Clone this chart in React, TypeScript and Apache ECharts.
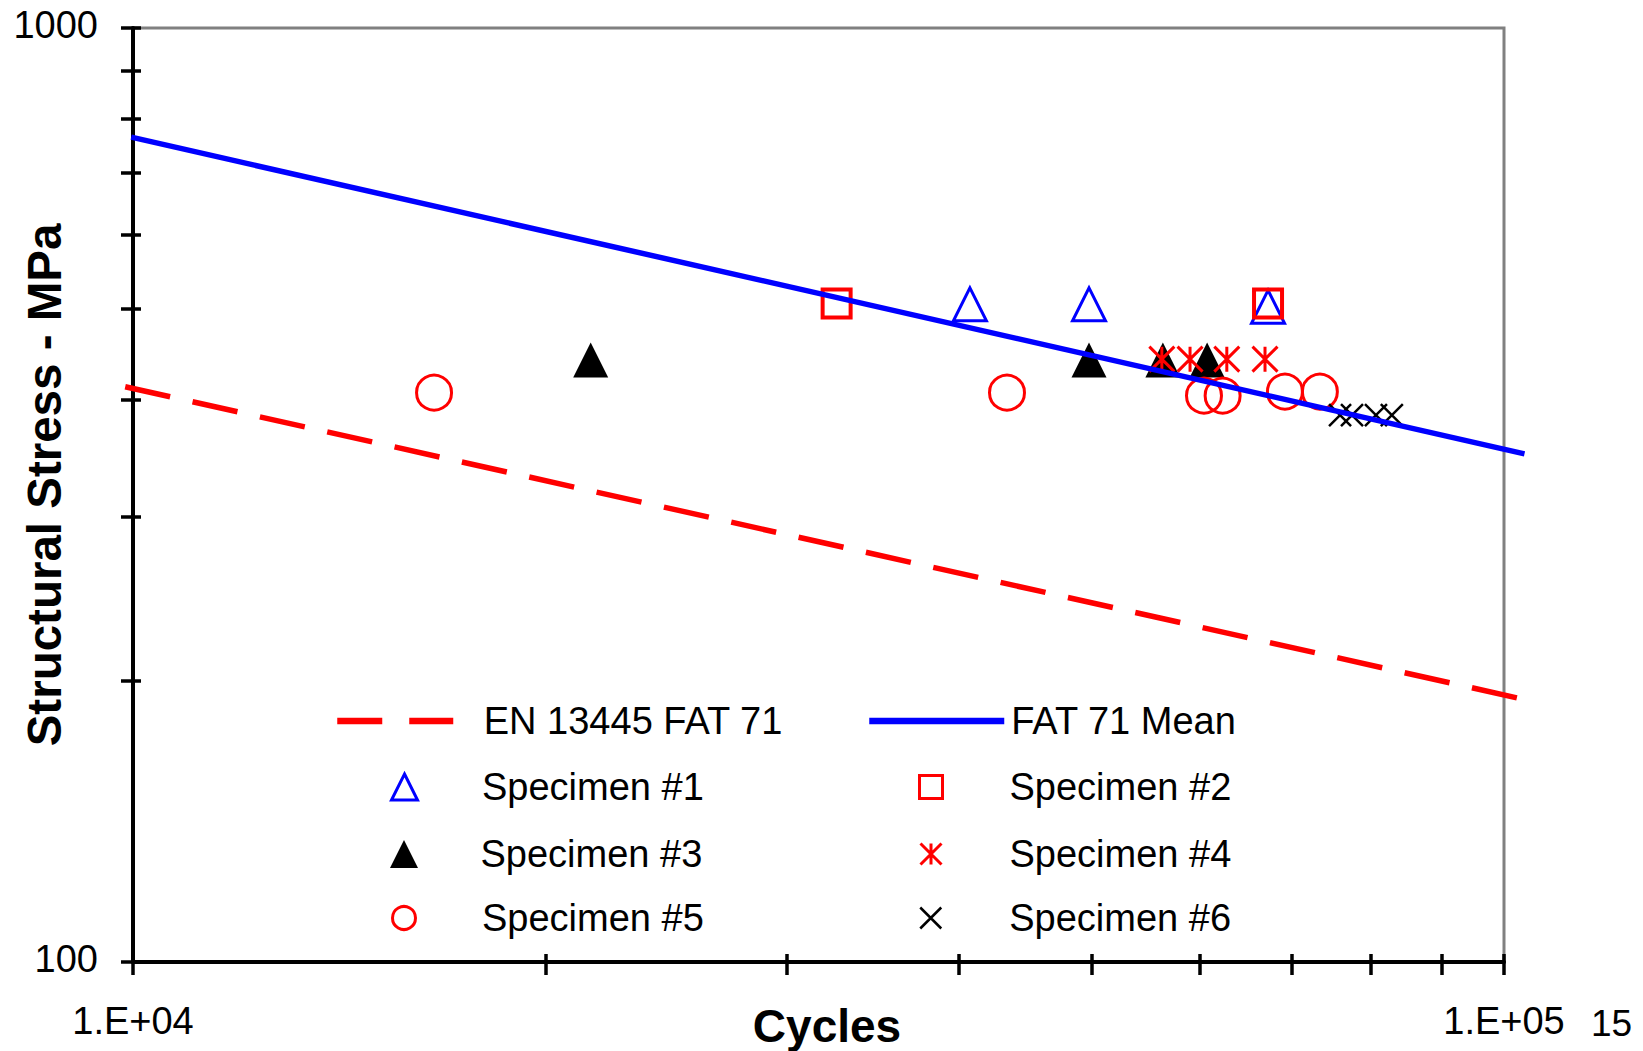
import React, { useEffect, useRef } from 'react';
import * as echarts from 'echarts';

const FONT = "'Liberation Sans', Arial, sans-serif";

// Axis tick positions (log decades with intermediate marks)
const cycleTicks = [10000, 20000, 30000, 40000, 50000, 60000, 70000, 80000, 90000, 100000];
const stressTicks = [100, 200, 300, 400, 500, 600, 700, 800, 900, 1000];
const cycleRange = [10000, 100000];
const stressRange = [100, 1000];

// S-N curves: [cycles, stress MPa]
const designCurve = [[9870, 413], [103500, 191]];
const meanCurve = [[9970, 764], [103500, 350]];

// Test results per specimen: [cycles, structural stress MPa]
const specimen1 = [[40780, 506], [49810, 506], [67280, 503]];
const specimen2 = [[32600, 507], [67280, 507]];
const specimen3 = [[21570, 441], [49810, 441], [56390, 441], [60740, 441]];
const specimen4 = [[56290, 442], [59020, 442], [62780, 442], [66940, 442]];
const specimen5 = [[16580, 407], [43400, 407], [60420, 404], [62340, 404], [69220, 408], [73400, 408]];
const specimen6 = [[75930, 385], [77470, 385], [80650, 385], [82830, 385]];

const ASTERISK = 'path://M0,0L20,20M20,0L0,20M10,0L10,20';
const CROSS = 'path://M0,0L20,20M20,0L0,20';

// Page / plot layout
const WIDTH = 1643;
const HEIGHT = 1051;
const PLOT = { left: 133, right: 139, top: 28, bottom: 89 };

const legendText = { fontSize: 38, color: '#000', fontFamily: FONT };

function legendEntry(
  name: string,
  left: number,
  centerY: number,
  w: number,
  h: number,
  textLeft: number,
  extra: Record<string, unknown> = {}
) {
  return {
    data: [name],
    left,
    top: centerY - 19,
    itemWidth: w,
    itemHeight: h,
    padding: 0,
    selectedMode: false,
    textStyle: { ...legendText, padding: [0, 0, 0, textLeft - (left + w) - 5] },
    ...extra,
  };
}

function expLabel(v: number) {
  const e = Math.round(Math.log10(v));
  return '1.E+' + String(e).padStart(2, '0');
}

export default function App() {
  const ref = useRef<HTMLDivElement>(null);

  useEffect(() => {
    const chart = echarts.init(ref.current!, null, { renderer: 'svg' });

    // The curves run a little past the framed cycle range, so they get their own
    // overlay grid whose log scale matches the main one, widened to their span.
    const plotWidth = WIDTH - PLOT.left - PLOT.right;
    const pxPerDecade = plotWidth / (Math.log10(cycleRange[1]) - Math.log10(cycleRange[0]));
    const curveMin = Math.min(designCurve[0][0], meanCurve[0][0]);
    const curveMax = Math.max(designCurve[1][0], meanCurve[1][0]);
    const curveLeft = PLOT.left + (Math.log10(curveMin) - Math.log10(cycleRange[0])) * pxPerDecade;
    const curveRightEdge = PLOT.left + (Math.log10(curveMax) - Math.log10(cycleRange[0])) * pxPerDecade;

    const hiddenAxis = {
      type: 'log',
      logBase: 10,
      axisLine: { show: false, onZero: false },
      axisTick: { show: false },
      axisLabel: { show: false },
      splitLine: { show: false },
    };

    const option = {
      animation: false,
      backgroundColor: '#ffffff',
      textStyle: { fontFamily: FONT },
      grid: [
        {
          left: PLOT.left,
          right: PLOT.right,
          top: PLOT.top,
          bottom: PLOT.bottom,
          containLabel: false,
          outerBoundsMode: 'none',
          show: true,
          borderColor: '#808080',
          borderWidth: 3,
          backgroundColor: 'transparent',
        },
        {
          left: curveLeft,
          right: WIDTH - curveRightEdge,
          top: PLOT.top,
          bottom: PLOT.bottom,
          containLabel: false,
          outerBoundsMode: 'none',
          show: false,
        },
      ],
      xAxis: [
        {
          type: 'log',
          logBase: 10,
          min: cycleRange[0],
          max: cycleRange[1],
          position: 'bottom',
          axisLine: { onZero: false, lineStyle: { color: '#000', width: 4 } },
          axisTick: { customValues: cycleTicks, length: 13, lineStyle: { color: '#000', width: 3.5 } },
          axisLabel: { formatter: expLabel, fontSize: 38, color: '#000', fontFamily: FONT, margin: 40 },
          splitLine: { show: false },
          name: 'Cycles',
          nameLocation: 'middle',
          nameGap: 41,
          nameMoveOverlap: false,
          nameTextStyle: {
            fontSize: 46,
            fontWeight: 'bold',
            color: '#000',
            fontFamily: FONT,
            padding: [0, 0, 0, 17],
          },
        },
        {
          type: 'log',
          logBase: 10,
          min: cycleRange[0],
          max: cycleRange[1],
          position: 'bottom',
          axisLine: { show: false, onZero: false },
          axisTick: { inside: true, customValues: cycleTicks, length: 8, lineStyle: { color: '#000', width: 3.5 } },
          axisLabel: { show: false },
          splitLine: { show: false },
        },
        { ...hiddenAxis, gridIndex: 1, min: curveMin, max: curveMax, position: 'bottom' },
      ],
      yAxis: [
        {
          type: 'log',
          logBase: 10,
          min: stressRange[0],
          max: stressRange[1],
          position: 'left',
          axisLine: { onZero: false, lineStyle: { color: '#000', width: 4 } },
          axisTick: { customValues: stressTicks, length: 12, lineStyle: { color: '#000', width: 3.5 } },
          axisLabel: {
            formatter: (v: number) => String(v),
            fontSize: 38,
            color: '#000',
            fontFamily: FONT,
            margin: 35,
            verticalAlign: 'bottom',
            lineHeight: 7,
          },
          splitLine: { show: false },
          name: 'Structural Stress - MPa',
          nameLocation: 'middle',
          nameGap: 65,
          nameMoveOverlap: false,
          nameTextStyle: {
            fontSize: 47.5,
            fontWeight: 'bold',
            color: '#000',
            fontFamily: FONT,
            padding: [0, 0, 0, 20],
          },
        },
        {
          type: 'log',
          logBase: 10,
          min: stressRange[0],
          max: stressRange[1],
          position: 'left',
          axisLine: { show: false, onZero: false },
          axisTick: { inside: true, customValues: stressTicks, length: 8, lineStyle: { color: '#000', width: 3.5 } },
          axisLabel: { show: false },
          splitLine: { show: false },
        },
        { ...hiddenAxis, gridIndex: 1, min: stressRange[0], max: stressRange[1], position: 'left' },
      ],
      legend: [
        legendEntry('EN 13445 FAT 71', 334, 721, 116, 14, 480.5, {
          lineStyle: { width: 6.5, type: [45, 27], color: '#ff0000' },
          itemStyle: { opacity: 0 },
        }),
        legendEntry('FAT 71 Mean', 866, 721, 135, 14, 1008, {
          lineStyle: { width: 6.5, type: 'solid', color: '#0000ff' },
          itemStyle: { opacity: 0 },
        }),
        legendEntry('Specimen #1', 390, 787, 26, 26, 480.5, { itemStyle: { borderWidth: 3, opacity: 1 } }),
        legendEntry('Specimen #2', 918, 787, 23, 23, 1008, { itemStyle: { borderWidth: 3, opacity: 1 } }),
        legendEntry('Specimen #3', 390, 854, 28, 28, 480.5, { itemStyle: { borderWidth: 0, opacity: 1 } }),
        legendEntry('Specimen #4', 919, 854, 21, 21, 1008, { itemStyle: { borderWidth: 3, opacity: 1 } }),
        legendEntry('Specimen #5', 391, 918, 23, 23, 480.5, { itemStyle: { borderWidth: 3, opacity: 1 } }),
        legendEntry('Specimen #6', 919, 918, 21, 21, 1008, { itemStyle: { borderWidth: 2.5, opacity: 1 } }),
      ],
      graphic: [
        {
          type: 'text',
          x: 1591,
          y: 1023,
          style: { text: '15', fontSize: 37, fill: '#000', fontFamily: FONT, verticalAlign: 'middle' },
        },
      ],
      series: [
        {
          name: 'EN 13445 FAT 71',
          type: 'line',
          xAxisIndex: 2,
          yAxisIndex: 2,
          data: designCurve,
          symbol: 'none',
          clip: false,
          silent: true,
          lineStyle: { color: '#ff0000', width: 5.5, type: [46, 23] },
          itemStyle: { color: '#ff0000' },
        },
        {
          name: 'FAT 71 Mean',
          type: 'line',
          xAxisIndex: 2,
          yAxisIndex: 2,
          data: meanCurve,
          symbol: 'none',
          clip: false,
          silent: true,
          lineStyle: { color: '#0000ff', width: 5.5 },
          itemStyle: { color: '#0000ff' },
        },
        {
          name: 'Specimen #1',
          type: 'scatter',
          data: specimen1,
          symbol: 'triangle',
          symbolSize: 33,
          silent: true,
          itemStyle: { color: 'rgba(0,0,0,0)', borderColor: '#0000ff', borderWidth: 3, opacity: 1 },
        },
        {
          name: 'Specimen #2',
          type: 'scatter',
          data: specimen2,
          symbol: 'rect',
          symbolSize: 28,
          silent: true,
          itemStyle: { color: 'rgba(0,0,0,0)', borderColor: '#ff0000', borderWidth: 4, opacity: 1 },
        },
        {
          name: 'Specimen #3',
          type: 'scatter',
          data: specimen3,
          symbol: 'triangle',
          symbolSize: 35,
          silent: true,
          itemStyle: { color: '#000000', borderWidth: 0, opacity: 1 },
        },
        {
          name: 'Specimen #4',
          type: 'scatter',
          data: specimen4,
          symbol: ASTERISK,
          symbolSize: 25,
          silent: true,
          itemStyle: { color: 'rgba(0,0,0,0)', borderColor: '#ff0000', borderWidth: 3, opacity: 1 },
        },
        {
          name: 'Specimen #5',
          type: 'scatter',
          data: specimen5,
          symbol: 'circle',
          symbolSize: 35,
          silent: true,
          itemStyle: { color: 'rgba(0,0,0,0)', borderColor: '#ff0000', borderWidth: 3, opacity: 1 },
        },
        {
          name: 'Specimen #6',
          type: 'scatter',
          data: specimen6,
          symbol: CROSS,
          symbolSize: 22,
          silent: true,
          itemStyle: { color: 'rgba(0,0,0,0)', borderColor: '#000000', borderWidth: 2.5, opacity: 1 },
        },
      ],
    };

    chart.setOption(option as any);
    return () => chart.dispose();
  }, []);

  return (
    <div
      ref={ref}
      style={{ position: 'absolute', left: 0, top: 0, width: WIDTH, height: HEIGHT }}
    />
  );
}
